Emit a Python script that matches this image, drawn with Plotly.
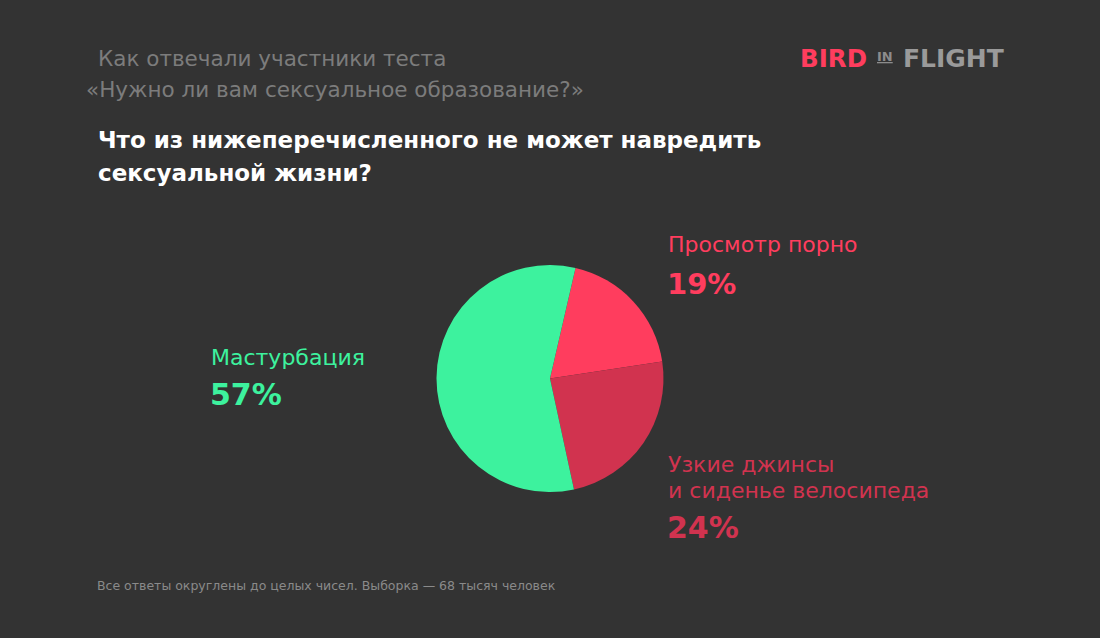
import plotly.graph_objects as go

W, H = 1100, 638
BG = "#333333"

categories = ["Просмотр порно", "Узкие джинсы<br>и сиденье велосипеда", "Мастурбация"]
values = [19, 24, 57]
colors = ["#FF3D5E", "#D1334F", "#3DF29E"]

FONT = "DejaVu Sans"

def px(x):
    return x / W

def py(y):
    return 1 - y / H

fig = go.Figure()
fig.add_trace(go.Pie(
    labels=categories,
    values=values,
    sort=False,
    direction="clockwise",
    rotation=13,
    marker=dict(colors=colors, line=dict(width=0)),
    textinfo="none",
    hoverinfo="label+percent",
    showlegend=False,
    domain=dict(x=[px(550 - 113.5), px(550 + 113.5)], y=[py(492), py(265)]),
))

ann = []

def add(text, x, y, size, color, bold=False, anchor="left"):
    ann.append(dict(
        text=f"<b>{text}</b>" if bold else text,
        x=px(x), y=py(y), xref="paper", yref="paper",
        xanchor=anchor, yanchor="middle", showarrow=False,
        font=dict(family=FONT, size=size, color=color),
    ))

GRAY = "#7c7c7c"
add("Как отвечали участники теста", 96, 59, 21.5, GRAY)
add("«Нужно ли вам сексуальное образование?»", 84, 89, 21.5, GRAY)
add("Что из нижеперечисленного не может навредить", 96, 140, 23, "#ffffff", bold=True)
add("сексуальной жизни?", 96, 173, 23, "#ffffff", bold=True)

# logo
add("BIRD", 798, 59, 24.5, "#FF3D5E", bold=True)
add("<u>IN</u>", 875, 56, 13, "#8c8c8c", bold=True)
add("FLIGHT", 901, 59, 25, "#9a9a9a", bold=True)

# labels
add(categories[2], 209, 357, 22, colors[2])
add(f"{values[2]}%", 208, 394, 30, colors[2], bold=True)
add(categories[0], 666, 245, 22, colors[0])
add(f"{values[0]}%", 665, 284, 29, colors[0], bold=True)
add("Узкие джинсы", 666, 464, 22, colors[1])
add("и сиденье велосипеда", 666, 490, 22, colors[1])
add(f"{values[1]}%", 665, 527, 30, colors[1], bold=True)

add("Все ответы округлены до целых чисел. Выборка — 68 тысяч человек", 95, 585, 12.5, "#8a8a8a")

fig.update_layout(
    width=W, height=H,
    margin=dict(l=0, r=0, t=0, b=0),
    paper_bgcolor=BG, plot_bgcolor=BG,
    annotations=ann,
)

fig.write_html(
    "out.html",
    config={"displayModeBar": False},
    post_script="document.body.style.margin='0';document.body.style.background='#333333';",
)
